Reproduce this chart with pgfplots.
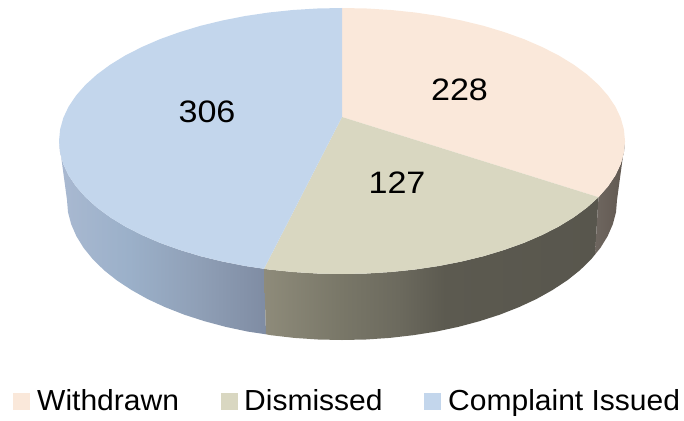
\documentclass[border=0pt]{standalone}
\usepackage{pgfplots}
\pgfplotsset{compat=1.18}
\usepackage{fontspec}
\setmainfont{Liberation Sans}
\definecolor{peach}{HTML}{FAE8DA}
\definecolor{olive}{HTML}{D9D7C1}
\definecolor{paleblue}{HTML}{C3D6EC}
\definecolor{bsa}{HTML}{A9B9D1}\definecolor{bsb}{HTML}{9BB0C9}\definecolor{bsc}{HTML}{8F9FB6}\definecolor{bsd}{HTML}{7F8CA3}
\definecolor{osa}{HTML}{8E8B7A}\definecolor{osb}{HTML}{797768}\definecolor{osc}{HTML}{6C6A5E}\definecolor{osd}{HTML}{5C5A50}\definecolor{ose}{HTML}{58564D}
\definecolor{psa}{HTML}{6E665F}\definecolor{psb}{HTML}{615850}
\pgfdeclarehorizontalshading{blueside}{100bp}{color(0bp)=(bsa); color(25bp)=(bsa); color(42bp)=(bsb); color(59bp)=(bsc); color(75bp)=(bsd); color(100bp)=(bsd)}
\pgfdeclarehorizontalshading{oliveside}{100bp}{color(0bp)=(osa); color(25bp)=(osa); color(36.5bp)=(osb); color(45bp)=(osc); color(52bp)=(osd); color(75bp)=(ose); color(100bp)=(ose)}
\pgfdeclarehorizontalshading{peachside}{100bp}{color(0bp)=(psa); color(25bp)=(psa); color(75bp)=(psb); color(100bp)=(psb)}
\newcommand{\datalabel}[1]{\fontsize{31}{33}\selectfont\scalebox{1.1}[1]{#1}}
\newcommand{\legendlabel}[1]{\fontsize{29}{31}\selectfont\scalebox{1.035}[1]{#1}}
\begin{document}
\begin{tikzpicture}
\useasboundingbox (0,0) rectangle (684pt,420pt);
\begin{axis}[at={(0,0)},anchor=south west,scale only axis,width=684pt,height=420pt,
  xmin=0,xmax=684,ymin=0,ymax=420,y dir=reverse,axis lines=none,clip=false]
% side walls
\addplot[draw=none,shading=blueside,forget plot] coordinates {(59,141)(60.1,152.6)(63.3,164.1)(68.6,175.4)(76.1,186.5)(85.5,197.2)(96.9,207.5)(110.2,217.3)(125.2,226.5)(141.9,235)(160.1,242.9)(179.7,249.9)(200.5,256.2)(222.4,261.5)(245.2,266)(264,268.8)(266,334.3)(247.9,331.6)(225.8,326.9)(204.5,321.2)(184.3,314.7)(165.2,307.2)(147.5,299)(131.3,289.9)(116.7,280.3)(103.8,270)(92.8,259.2)(83.6,247.9)(76.4,236.2)(71.2,224.3)(68,212.2)(67,200)} --cycle;
\addplot[draw=none,shading=oliveside,forget plot] coordinates {(264,268.8)(268.8,269.5)(292.9,272)(317.3,273.5)(342,274)(366.7,273.5)(391.1,272)(415.2,269.5)(438.8,266)(461.6,261.5)(483.5,256.2)(504.3,249.9)(523.9,242.9)(542.1,235)(558.8,226.5)(573.8,217.3)(587.1,207.5)(598.5,197.2)(595,254.5)(591.2,259.2)(580.2,270)(567.3,280.3)(552.7,289.9)(536.5,299)(518.8,307.2)(499.7,314.7)(479.5,321.2)(458.2,326.9)(436.1,331.6)(413.2,335.2)(389.8,337.9)(366,339.5)(342,340)(318,339.5)(294.2,337.9)(270.8,335.2)(266,334.3)} --cycle;
\addplot[draw=none,shading=peachside,forget plot] coordinates {(598.5,197.2)(607.9,186.5)(615.4,175.4)(620.7,164.1)(623.9,152.6)(625,141)(617,200)(616,212.2)(612.8,224.3)(607.6,236.2)(600.4,247.9)(595,254.5)} --cycle;
% top face
\addplot[fill=peach,draw=none,forget plot] coordinates {(342,117)(342,8)(366.7,8.5)(391.1,10)(415.2,12.5)(438.8,16)(461.6,20.5)(483.5,25.8)(504.3,32.1)(523.9,39.1)(542.1,47)(558.8,55.5)(573.8,64.7)(587.1,74.5)(598.5,84.8)(607.9,95.5)(615.4,106.6)(620.7,117.9)(623.9,129.4)(625,141)(623.9,152.6)(620.7,164.1)(615.4,175.4)(607.9,186.5)(598.5,197.2)} --cycle;
\addplot[fill=olive,draw=none,forget plot] coordinates {(342,117)(598.5,197.2)(587.1,207.5)(573.8,217.3)(558.8,226.5)(542.1,235)(523.9,242.9)(504.3,249.9)(483.5,256.2)(461.6,261.5)(438.8,266)(415.2,269.5)(391.1,272)(366.7,273.5)(342,274)(317.3,273.5)(292.9,272)(268.8,269.5)(264,268.8)} --cycle;
\addplot[fill=paleblue,draw=none,forget plot] coordinates {(342,117)(264,268.8)(245.2,266)(222.4,261.5)(200.5,256.2)(179.7,249.9)(160.1,242.9)(141.9,235)(125.2,226.5)(110.2,217.3)(96.9,207.5)(85.5,197.2)(76.1,186.5)(68.6,175.4)(63.3,164.1)(60.1,152.6)(59,141)(60.1,129.4)(63.3,117.9)(68.6,106.6)(76.1,95.5)(85.5,84.8)(96.9,74.5)(110.2,64.7)(125.2,55.5)(141.9,47)(160.1,39.1)(179.7,32.1)(200.5,25.8)(222.4,20.5)(245.2,16)(268.8,12.5)(292.9,10)(317.3,8.5)(342,8)} --cycle;
% legend swatches
\addplot[fill=peach,draw=none,forget plot] coordinates {(13,393)(30,393)(30,410)(13,410)} --cycle;
\addplot[fill=olive,draw=none,forget plot] coordinates {(221,393)(238,393)(238,410)(221,410)} --cycle;
\addplot[fill=paleblue,draw=none,forget plot] coordinates {(424,393)(441,393)(441,410)(424,410)} --cycle;
% data labels
\node[anchor=base,inner sep=0pt] at (axis cs:207,122.5) {\datalabel{306}};
\node[anchor=base,inner sep=0pt] at (axis cs:459.5,100.5) {\datalabel{228}};
\node[anchor=base,inner sep=0pt] at (axis cs:397,193) {\datalabel{127}};
% legend
\node[anchor=base west,inner sep=0pt] at (axis cs:37,410) {\legendlabel{Withdrawn}};
\node[anchor=base west,inner sep=0pt] at (axis cs:244,410) {\legendlabel{Dismissed}};
\node[anchor=base west,inner sep=0pt] at (axis cs:448,410) {\fontsize{29}{31}\selectfont\scalebox{1.035}[1]{Complaint Issued}};
\end{axis}
\end{tikzpicture}
\end{document}
